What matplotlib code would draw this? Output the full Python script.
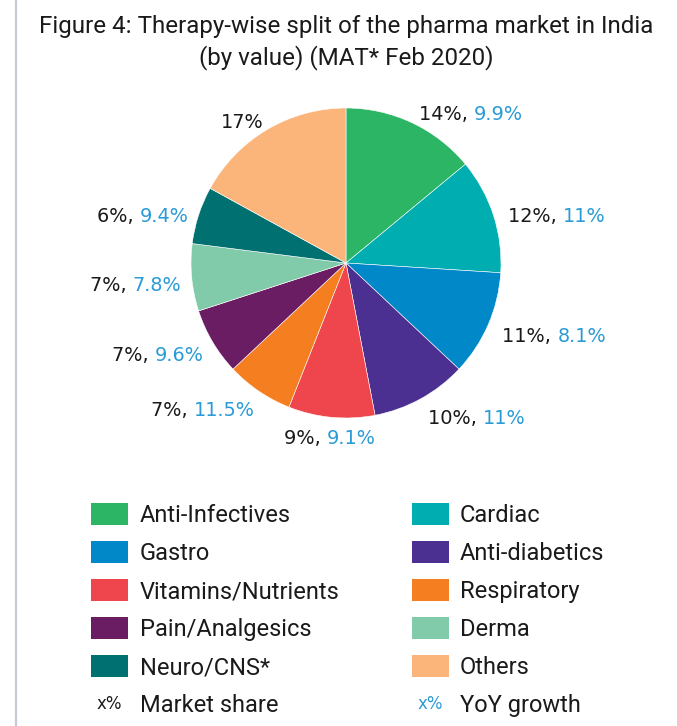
import numpy as np
import matplotlib
matplotlib.use("Agg")
import matplotlib.pyplot as plt
from matplotlib.offsetbox import TextArea, HPacker, AnnotationBbox
from matplotlib.patches import Rectangle
from matplotlib.lines import Line2D

# ---- data ----
categories = ["Anti-Infectives", "Cardiac", "Gastro", "Anti-diabetics",
              "Vitamins/Nutrients", "Respiratory", "Pain/Analgesics",
              "Derma", "Neuro/CNS*", "Others"]
market_share = [14, 12, 11, 10, 9, 7, 7, 7, 6, 17]
yoy_growth = ["9.9%", "11%", "8.1%", "11%", "9.1%", "11.5%", "9.6%", "7.8%", "9.4%", None]
colors = ["#2BB564", "#00ADB0", "#0088C9", "#4B2F91", "#EF464E",
          "#F47E20", "#6A1D62", "#82CBAA", "#007070", "#FBB479"]
title_lines = ["Figure 4: Therapy-wise split of the pharma market in India",
               "(by value) (MAT* Feb 2020)"]
blue = "#2A9BD6"

W, H = 677, 726
fig = plt.figure(figsize=(W / 100, H / 100), dpi=100)
fig.patch.set_facecolor("white")

def fx(px):
    return px / W

def fy(py):
    return 1 - py / H

# left border line
fig.add_artist(Line2D([fx(16), fx(16)], [0, 1], color="#C5C9D3", lw=1.6,
                      transform=fig.transFigure))

# title
title_font = "Roboto"
fig.text(fx(346), fy(26), title_lines[0], ha="center", va="center",
         fontsize=17.4, family=title_font, color="#1a1a1a")
fig.text(fx(346), fy(58), title_lines[1], ha="center", va="center",
         fontsize=17.4, family=title_font, color="#1a1a1a")

# pie
cx, cy, r = 346, 263, 155
ax = fig.add_axes([fx(cx - r), fy(cy + r), 2 * r / W, 2 * r / H])
wedges, _ = ax.pie(market_share, colors=colors, startangle=90, counterclock=False,
                   wedgeprops=dict(linewidth=0.4, edgecolor="white"))
ax.set_xlim(-1, 1)
ax.set_ylim(-1, 1)
ax.set_aspect("equal")
ax.axis("off")

lab_fs = 13.9
for w, ms, g in zip(wedges, market_share, yoy_growth):
    ang = np.deg2rad((w.theta1 + w.theta2) / 2)
    x, y = 1.1 * np.cos(ang), 1.1 * np.sin(ang)
    parts = [TextArea(f"{ms}%" + (", " if g else ""),
                      textprops=dict(color="#1a1a1a", fontsize=lab_fs, family="DejaVu Sans"))]
    if g:
        parts.append(TextArea(g, textprops=dict(color=blue, fontsize=lab_fs, family="DejaVu Sans")))
    box = HPacker(children=parts, align="baseline", pad=0, sep=0)
    if abs(np.cos(ang)) < 0.2:
        bx, dx = 0.5, 0
    elif np.cos(ang) > 0:
        bx, dx = 0.0, 0
    else:
        bx, dx = 1.0, 3.5
    ab = AnnotationBbox(box, (x, y), xycoords="data", xybox=(dx, -3),
                        boxcoords="offset points", frameon=False,
                        box_alignment=(bx, 0.6), annotation_clip=False, pad=0)
    ax.add_artist(ab)

# legend (manual, 2 columns)
leg_fs = 17
row0, row_h = 514, 38
col_patch = [91, 412]
col_text = [140, 460]
pw, ph = 37, 22
for i, (name, c) in enumerate(zip(categories, colors)):
    row, col = divmod(i, 2)
    yc = row0 + row * row_h
    fig.add_artist(Rectangle((fx(col_patch[col]), fy(yc + ph / 2)), pw / W, ph / H,
                             facecolor=c, edgecolor="none", transform=fig.transFigure))
    fig.text(fx(col_text[col]), fy(yc + 1.5), name, ha="left", va="center",
             fontsize=leg_fs, family=title_font, color="#1a1a1a")

yc = row0 + 5 * row_h
fig.text(fx(col_patch[0] + pw / 2), fy(yc), "x%", ha="center", va="center",
         fontsize=12, family="DejaVu Sans", color="#1a1a1a")
fig.text(fx(col_text[0]), fy(yc + 1.5), "Market share", ha="left", va="center",
         fontsize=leg_fs, family=title_font, color="#1a1a1a")
fig.text(fx(col_patch[1] + pw / 2), fy(yc), "x%", ha="center", va="center",
         fontsize=12, family="DejaVu Sans", color=blue)
fig.text(fx(col_text[1]), fy(yc + 1.5), "YoY growth", ha="left", va="center",
         fontsize=leg_fs, family=title_font, color="#1a1a1a")

fig.savefig("out.png", dpi=100, facecolor="white")
